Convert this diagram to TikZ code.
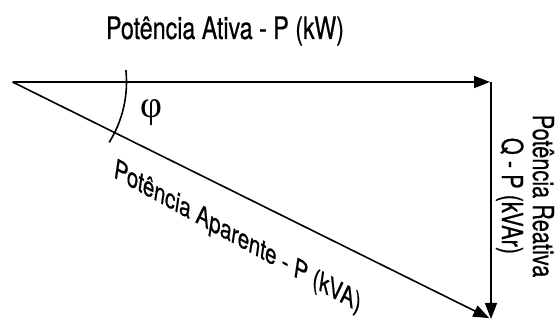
\documentclass[tikz,border=0pt]{standalone}
\usepackage{fontspec}
\setmainfont{TeX Gyre Heros}[FakeStretch=0.75, FakeBold=0.5]
\newfontfamily\phifont{Liberation Serif}
\usepackage{tikz}
\usetikzlibrary{arrows.meta}

\tikzset{
  vec/.style={line width=1.6pt, -{Triangle[length=16pt, width=12pt]}},
  lbl/.style={font=\fontsize{31}{36}\selectfont, inner sep=0pt}
}

\begin{document}
\begin{tikzpicture}[x=1pt, y=1pt]
\useasboundingbox (0,0) rectangle (558,-320);

 \coordinate (o) at (12.5,-82);
 \coordinate (p) at (491,-82);
 \coordinate (q) at (491,-319);

 \draw [vec, shorten >=1pt] (o) -- (p);
 \draw [vec] (p) -- (q);
 \draw [vec, shorten >=2pt] (o) -- (q);

 % angle between S and P
 \draw [line width=1.6pt] ([shift={(6:114)}]o) arc[start angle=6, end angle=-32, radius=114];
 \node[font=\phifont\fontsize{38}{38}\selectfont, inner sep=0pt] (phi) at (151,-113) {φ};

 \node[lbl, anchor=base] (ativa) at (225,-39) {Potência Ativa - P (kW)};

 \node[lbl, font=\fontsize{26.5}{32}\selectfont, anchor=base west, transform shape,
    cm={1,-0.55,0.15,1,(0,0)}] (aparente)
    at (113,-177) {Potência Aparente - P (kVA)};

 \node[lbl, font=\fontsize{29}{31}\selectfont, rotate=-90, align=center] (reativa)
    at (525,-196) {Potência Reativa\\Q - P (kVAr)};

\end{tikzpicture}
\end{document}
